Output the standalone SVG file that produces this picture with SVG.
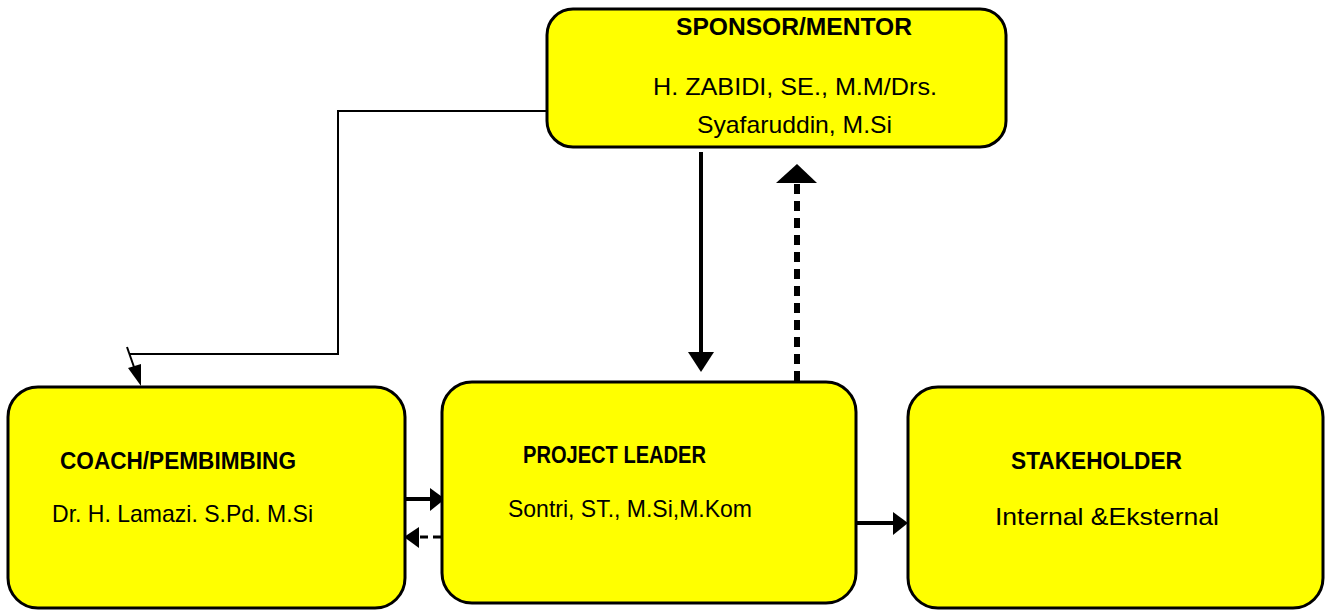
<svg xmlns="http://www.w3.org/2000/svg" width="1327" height="610" viewBox="0 0 1327 610">
  <style>
    .box { fill: #FFFF00; stroke: #000; stroke-width: 3; }
    .title { font-family: "Liberation Sans", Arial, sans-serif; font-weight: bold; font-size: 23px; fill: #000; }
    .name { font-family: "Liberation Sans", Arial, sans-serif; font-size: 24px; fill: #000; }
    .thin { fill: none; stroke: #000; stroke-width: 2; }
    .solid { fill: none; stroke: #000; stroke-width: 4; }
  </style>
  <defs>
    <marker id="head" viewBox="0 0 10 10" refX="10" refY="5" markerWidth="5" markerHeight="5" orient="auto" markerUnits="strokeWidth">
      <path d="M0,0 L10,5 L0,10 Z" fill="#000"/>
    </marker>
  </defs>
  <rect width="1327" height="610" fill="#fff"/>

  <!-- connectors -->
  <g id="connectors">
    <!-- sponsor to coach, elbow route -->
    <polyline class="thin" points="547,111 338,111 338,354 130,354"/>
    <line x1="127" y1="347" x2="134" y2="367" stroke="#000" stroke-width="2"/>
    <polygon points="128,368 141,364 141,386" fill="#000"/>
    <!-- sponsor down to project leader -->
    <line class="solid" x1="701" y1="152" x2="701" y2="354"/>
    <polygon points="688,352 714,352 701,372" fill="#000"/>
    <!-- project leader up to sponsor (dashed) -->
    <line x1="797" y1="381" x2="797" y2="183" stroke="#000" stroke-width="6" stroke-dasharray="10,7"/>
    <polygon points="776,183 817,183 797,164" fill="#000"/>
    <!-- coach to project leader -->
    <line class="solid" x1="405" y1="499" x2="432" y2="499"/>
    <polygon points="430,488 430,511 445,499" fill="#000"/>
    <!-- project leader back to coach (dashed) -->
    <line x1="441" y1="537" x2="417" y2="537" stroke="#000" stroke-width="3" stroke-dasharray="8,5"/>
    <polygon points="419,527 419,548 404,537" fill="#000"/>
    <!-- project leader to stakeholder -->
    <line class="solid" x1="857" y1="523" x2="895" y2="523"/>
    <polygon points="893,512 893,535 908,523" fill="#000"/>
  </g>

  <g id="sponsor">
    <rect class="box" x="547" y="9" width="459" height="138" rx="26" ry="26"/>
    <text class="title" x="676" y="35" textLength="236" lengthAdjust="spacingAndGlyphs">SPONSOR/MENTOR</text>
    <text class="name" x="653" y="95" textLength="284" lengthAdjust="spacingAndGlyphs">H. ZABIDI, SE., M.M/Drs.</text>
    <text class="name" x="697" y="133" textLength="195" lengthAdjust="spacingAndGlyphs">Syafaruddin, M.Si</text>
  </g>

  <g id="coach">
    <rect class="box" x="8" y="387" width="397" height="221" rx="30" ry="30"/>
    <text class="title" x="60" y="469" textLength="236" lengthAdjust="spacingAndGlyphs">COACH/PEMBIMBING</text>
    <text class="name" x="52" y="522" textLength="261" lengthAdjust="spacingAndGlyphs">Dr. H. Lamazi. S.Pd. M.Si</text>
  </g>

  <g id="project-leader">
    <rect class="box" x="442" y="382" width="414" height="221" rx="30" ry="30"/>
    <text class="title" x="523" y="463" textLength="183" lengthAdjust="spacingAndGlyphs">PROJECT LEADER</text>
    <text class="name" x="508" y="517" textLength="244" lengthAdjust="spacingAndGlyphs">Sontri, ST., M.Si,M.Kom</text>
  </g>

  <g id="stakeholder">
    <rect class="box" x="908" y="387" width="415" height="221" rx="30" ry="30"/>
    <text class="title" x="1011" y="469" textLength="171" lengthAdjust="spacingAndGlyphs">STAKEHOLDER</text>
    <text class="name" x="995" y="525" textLength="224" lengthAdjust="spacingAndGlyphs">Internal &amp;Eksternal</text>
  </g>
</svg>
